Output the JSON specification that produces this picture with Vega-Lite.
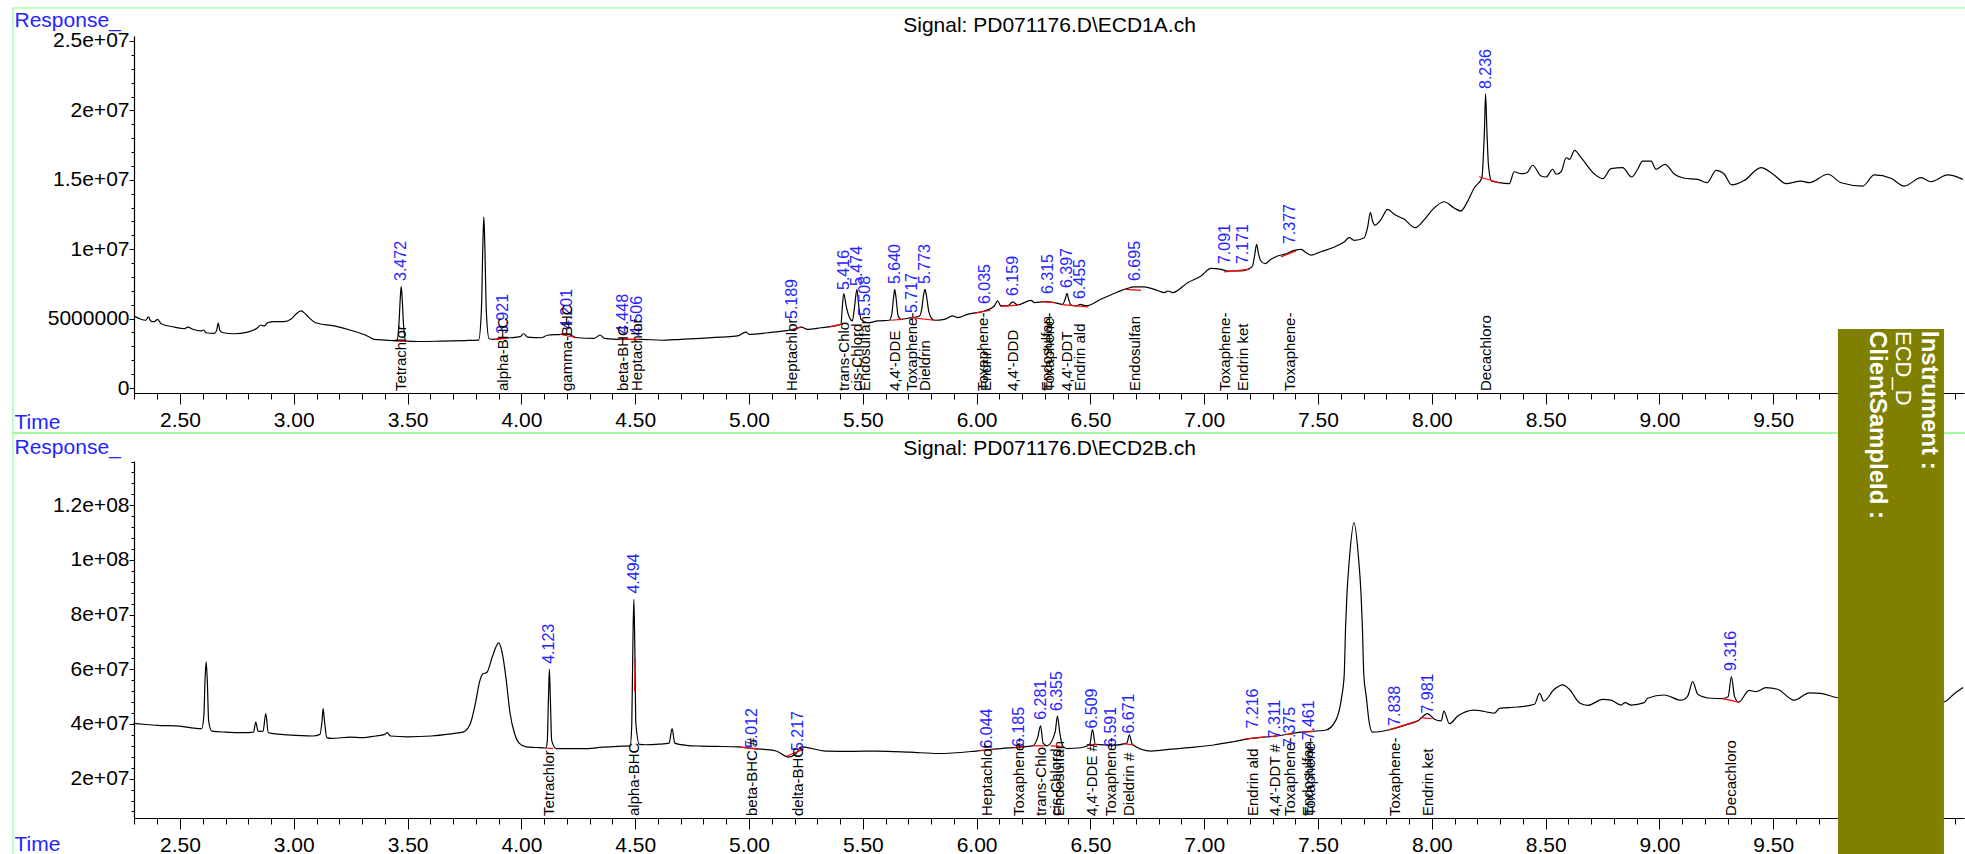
{
"$schema":"https://vega.github.io/schema/vega-lite/v6.json",
"padding":{"left":12,"top":7,"right":0,"bottom":0},
"background":"white",
"bounds":"flush",
"spacing":68,
"config":{"font":"Liberation Sans","view":{"stroke":null},
"axis":{"grid":false,"domainColor":"black","tickColor":"black","labelColor":"black","labelFont":"Liberation Sans","labelFontSize":21,"titleFont":"Liberation Sans","titleFontSize":21,"titleColor":"#2424ff","titleFontWeight":"normal","domainWidth":1.2,"tickWidth":1,"labelFlush":false,"labelOverlap":false}},
"datasets":{
"trace1":[
{"t":2.298,"v":5.19e6},{"t":2.35,"v":4.88e6},{"t":2.361,"v":5.12e6},{"t":2.372,"v":4.82e6},{"t":2.387,"v":4.78e6},{"t":2.402,"v":4.95e6},{"t":2.417,"v":4.63e6},{"t":2.475,"v":4.39e6},{"t":2.519,"v":4.27e6},{"t":2.534,"v":4.39e6},{"t":2.556,"v":4.23e6},{"t":2.592,"v":4.11e6},{"t":2.604,"v":4.18e6},{"t":2.614,"v":3.98e6},{"t":2.651,"v":3.94e6},{"t":2.661,"v":4.15e6},{"t":2.668,"v":4.68e6},{"t":2.675,"v":4.15e6},{"t":2.69,"v":3.98e6},{"t":2.738,"v":3.91e6},{"t":2.797,"v":4.03e6},{"t":2.841,"v":4.34e6},{"t":2.855,"v":4.54e6},{"t":2.87,"v":4.47e6},{"t":2.885,"v":4.70e6},{"t":2.914,"v":4.78e6},{"t":2.957,"v":4.78e6},{"t":2.987,"v":4.95e6},{"t":3.009,"v":5.31e6},{"t":3.031,"v":5.55e6},{"t":3.045,"v":5.43e6},{"t":3.067,"v":5.07e6},{"t":3.096,"v":4.70e6},{"t":3.177,"v":4.47e6},{"t":3.25,"v":4.16e6},{"t":3.323,"v":3.75e6},{"t":3.352,"v":3.51e6},{"t":3.40,"v":3.45e6},{"t":3.452,"v":3.40e6},{"t":3.462,"v":4.6e6},{"t":3.468,"v":6.5e6},{"t":3.472,"v":7.30e6},{"t":3.476,"v":6.5e6},{"t":3.482,"v":4.6e6},{"t":3.492,"v":3.38e6},{"t":3.55,"v":3.35e6},{"t":3.65,"v":3.38e6},{"t":3.75,"v":3.42e6},{"t":3.812,"v":3.45e6},{"t":3.824,"v":5.5e6},{"t":3.831,"v":10.5e6},{"t":3.835,"v":12.32e6},{"t":3.839,"v":10.5e6},{"t":3.846,"v":5.5e6},{"t":3.858,"v":3.55e6},{"t":3.88,"v":3.50e6},{"t":3.908,"v":3.58e6},{"t":3.952,"v":3.62e6},{"t":3.995,"v":3.70e6},{"t":4.010,"v":3.91e6},{"t":4.027,"v":3.67e6},{"t":4.086,"v":3.62e6},{"t":4.115,"v":3.80e6},{"t":4.174,"v":3.87e6},{"t":4.196,"v":3.91e6},{"t":4.247,"v":3.62e6},{"t":4.320,"v":3.58e6},{"t":4.346,"v":3.82e6},{"t":4.364,"v":3.58e6},{"t":4.437,"v":3.51e6},{"t":4.526,"v":3.51e6},{"t":4.614,"v":3.44e6},{"t":4.701,"v":3.51e6},{"t":4.789,"v":3.58e6},{"t":4.877,"v":3.67e6},{"t":4.950,"v":3.75e6},{"t":4.986,"v":4.03e6},{"t":5.001,"v":3.87e6},{"t":5.082,"v":3.98e6},{"t":5.156,"v":4.11e6},{"t":5.199,"v":4.23e6},{"t":5.229,"v":4.39e6},{"t":5.258,"v":4.23e6},{"t":5.316,"v":4.34e6},{"t":5.375,"v":4.47e6},{"t":5.404,"v":4.59e6},{"t":5.409,"v":5.6e6},{"t":5.416,"v":6.80e6},{"t":5.428,"v":5.8e6},{"t":5.454,"v":4.83e6},{"t":5.464,"v":5.9e6},{"t":5.474,"v":7.11e6},{"t":5.483,"v":5.8e6},{"t":5.492,"v":4.95e6},{"t":5.521,"v":4.70e6},{"t":5.565,"v":4.83e6},{"t":5.616,"v":4.88e6},{"t":5.627,"v":5.3e6},{"t":5.635,"v":6.5e6},{"t":5.640,"v":7.11e6},{"t":5.646,"v":6.5e6},{"t":5.655,"v":5.2e6},{"t":5.667,"v":4.95e6},{"t":5.712,"v":5.07e6},{"t":5.749,"v":5.19e6},{"t":5.759,"v":5.7e6},{"t":5.767,"v":6.7e6},{"t":5.773,"v":7.11e6},{"t":5.779,"v":6.7e6},{"t":5.79,"v":5.5e6},{"t":5.80,"v":5.07e6},{"t":5.814,"v":4.88e6},{"t":5.858,"v":4.95e6},{"t":5.895,"v":5.19e6},{"t":5.917,"v":5.07e6},{"t":5.960,"v":5.31e6},{"t":6.034,"v":5.55e6},{"t":6.078,"v":5.91e6},{"t":6.092,"v":6.27e6},{"t":6.107,"v":5.91e6},{"t":6.136,"v":5.91e6},{"t":6.159,"v":6.20e6},{"t":6.180,"v":5.98e6},{"t":6.239,"v":6.32e6},{"t":6.254,"v":6.15e6},{"t":6.298,"v":6.22e6},{"t":6.342,"v":6.15e6},{"t":6.378,"v":6.03e6},{"t":6.389,"v":6.4e6},{"t":6.397,"v":6.82e6},{"t":6.404,"v":6.4e6},{"t":6.415,"v":5.98e6},{"t":6.437,"v":5.91e6},{"t":6.455,"v":6.03e6},{"t":6.481,"v":5.91e6},{"t":6.546,"v":6.39e6},{"t":6.619,"v":6.92e6},{"t":6.663,"v":7.18e6},{"t":6.692,"v":7.28e6},{"t":6.736,"v":7.28e6},{"t":6.781,"v":7.11e6},{"t":6.825,"v":6.87e6},{"t":6.840,"v":6.99e6},{"t":6.862,"v":6.87e6},{"t":6.927,"v":7.59e6},{"t":6.986,"v":8.07e6},{"t":7.030,"v":8.62e6},{"t":7.074,"v":8.55e6},{"t":7.103,"v":8.43e6},{"t":7.162,"v":8.43e6},{"t":7.198,"v":8.60e6},{"t":7.212,"v":8.79e6},{"t":7.222,"v":9.6e6},{"t":7.230,"v":10.35e6},{"t":7.238,"v":9.7e6},{"t":7.249,"v":9.15e6},{"t":7.267,"v":8.96e6},{"t":7.293,"v":9.27e6},{"t":7.322,"v":9.51e6},{"t":7.352,"v":9.63e6},{"t":7.396,"v":9.92e6},{"t":7.426,"v":9.99e6},{"t":7.448,"v":9.75e6},{"t":7.470,"v":9.58e6},{"t":7.513,"v":9.82e6},{"t":7.572,"v":10.16e6},{"t":7.616,"v":10.54e6},{"t":7.637,"v":10.83e6},{"t":7.659,"v":10.64e6},{"t":7.703,"v":10.83e6},{"t":7.718,"v":11.6e6},{"t":7.730,"v":12.63e6},{"t":7.740,"v":12.0e6},{"t":7.750,"v":11.74e6},{"t":7.777,"v":12.15e6},{"t":7.806,"v":12.87e6},{"t":7.835,"v":12.51e6},{"t":7.879,"v":12.15e6},{"t":7.927,"v":11.55e6},{"t":7.968,"v":12.15e6},{"t":8.004,"v":12.87e6},{"t":8.055,"v":13.42e6},{"t":8.099,"v":12.95e6},{"t":8.128,"v":12.75e6},{"t":8.150,"v":13.23e6},{"t":8.187,"v":14.43e6},{"t":8.220,"v":15.15e6},{"t":8.226,"v":16.6e6},{"t":8.231,"v":18.5e6},{"t":8.236,"v":21.2e6},{"t":8.242,"v":18.5e6},{"t":8.249,"v":16.0e6},{"t":8.262,"v":14.91e6},{"t":8.296,"v":14.79e6},{"t":8.340,"v":14.72e6},{"t":8.362,"v":15.58e6},{"t":8.392,"v":15.44e6},{"t":8.418,"v":15.51e6},{"t":8.443,"v":16.05e6},{"t":8.480,"v":15.27e6},{"t":8.502,"v":15.20e6},{"t":8.531,"v":15.76e6},{"t":8.546,"v":15.40e6},{"t":8.568,"v":15.58e6},{"t":8.590,"v":16.59e6},{"t":8.605,"v":16.47e6},{"t":8.627,"v":17.12e6},{"t":8.656,"v":16.59e6},{"t":8.715,"v":15.40e6},{"t":8.751,"v":15.08e6},{"t":8.787,"v":15.80e6},{"t":8.838,"v":15.87e6},{"t":8.878,"v":15.20e6},{"t":8.904,"v":15.76e6},{"t":8.926,"v":16.35e6},{"t":8.963,"v":16.35e6},{"t":8.985,"v":15.76e6},{"t":9.024,"v":16.11e6},{"t":9.066,"v":15.40e6},{"t":9.110,"v":15.11e6},{"t":9.168,"v":15.03e6},{"t":9.209,"v":14.79e6},{"t":9.249,"v":15.68e6},{"t":9.285,"v":15.40e6},{"t":9.317,"v":14.63e6},{"t":9.373,"v":14.96e6},{"t":9.446,"v":15.87e6},{"t":9.504,"v":15.35e6},{"t":9.556,"v":14.72e6},{"t":9.622,"v":14.91e6},{"t":9.658,"v":14.79e6},{"t":9.740,"v":15.40e6},{"t":9.798,"v":14.79e6},{"t":9.893,"v":14.55e6},{"t":9.944,"v":15.35e6},{"t":10.017,"v":15.11e6},{"t":10.076,"v":14.55e6},{"t":10.149,"v":15.15e6},{"t":10.193,"v":14.86e6},{"t":10.267,"v":15.35e6},{"t":10.333,"v":15.03e6}],
"trace2":[
{"t":2.296,"v":40.2e6},{"t":2.35,"v":39.8e6},{"t":2.40,"v":39.5e6},{"t":2.482,"v":39.3e6},{"t":2.55,"v":38.6e6},{"t":2.595,"v":38.3e6},{"t":2.605,"v":43e6},{"t":2.610,"v":56e6},{"t":2.615,"v":62.7e6},{"t":2.620,"v":56e6},{"t":2.626,"v":41e6},{"t":2.64,"v":37.4e6},{"t":2.70,"v":37.0e6},{"t":2.78,"v":36.8e6},{"t":2.823,"v":37.0e6},{"t":2.833,"v":40.7e6},{"t":2.843,"v":37.3e6},{"t":2.865,"v":37.4e6},{"t":2.877,"v":43.8e6},{"t":2.888,"v":36.8e6},{"t":2.93,"v":36.3e6},{"t":2.974,"v":36.0e6},{"t":3.084,"v":35.6e6},{"t":3.115,"v":36.2e6},{"t":3.124,"v":41e6},{"t":3.129,"v":45.6e6},{"t":3.135,"v":41e6},{"t":3.145,"v":35.0e6},{"t":3.167,"v":34.7e6},{"t":3.25,"v":35.2e6},{"t":3.30,"v":35.0e6},{"t":3.36,"v":35.6e6},{"t":3.40,"v":36.2e6},{"t":3.41,"v":36.8e6},{"t":3.425,"v":35.6e6},{"t":3.5,"v":35.3e6},{"t":3.605,"v":35.6e6},{"t":3.70,"v":36.5e6},{"t":3.743,"v":37.0e6},{"t":3.775,"v":40e6},{"t":3.80,"v":48.4e6},{"t":3.815,"v":55e6},{"t":3.83,"v":58.3e6},{"t":3.848,"v":58.8e6},{"t":3.872,"v":64.5e6},{"t":3.90,"v":69.7e6},{"t":3.918,"v":65e6},{"t":3.933,"v":56.3e6},{"t":3.95,"v":44e6},{"t":3.97,"v":36.5e6},{"t":3.99,"v":33e6},{"t":4.021,"v":31.6e6},{"t":4.063,"v":31.4e6},{"t":4.108,"v":31.2e6},{"t":4.114,"v":34e6},{"t":4.119,"v":50e6},{"t":4.123,"v":60.0e6},{"t":4.127,"v":50e6},{"t":4.133,"v":34e6},{"t":4.153,"v":31.0e6},{"t":4.293,"v":31.0e6},{"t":4.353,"v":31.5e6},{"t":4.423,"v":31.8e6},{"t":4.478,"v":32.0e6},{"t":4.485,"v":40e6},{"t":4.490,"v":70e6},{"t":4.494,"v":85.6e6},{"t":4.498,"v":70e6},{"t":4.503,"v":40e6},{"t":4.519,"v":32.5e6},{"t":4.544,"v":32.4e6},{"t":4.604,"v":32.6e6},{"t":4.649,"v":33.0e6},{"t":4.662,"v":38.3e6},{"t":4.674,"v":33.0e6},{"t":4.724,"v":32.2e6},{"t":4.789,"v":31.9e6},{"t":4.854,"v":31.8e6},{"t":4.954,"v":31.6e6},{"t":5.024,"v":31.0e6},{"t":5.119,"v":30.1e6},{"t":5.174,"v":27.9e6},{"t":5.205,"v":29.0e6},{"t":5.229,"v":31.6e6},{"t":5.338,"v":30.1e6},{"t":5.455,"v":30.0e6},{"t":5.558,"v":30.1e6},{"t":5.706,"v":29.7e6},{"t":5.833,"v":29.2e6},{"t":5.997,"v":30.1e6},{"t":6.046,"v":30.5e6},{"t":6.107,"v":31.0e6},{"t":6.186,"v":31.5e6},{"t":6.246,"v":32.0e6},{"t":6.268,"v":35e6},{"t":6.281,"v":39.3e6},{"t":6.292,"v":33e6},{"t":6.31,"v":32.0e6},{"t":6.345,"v":37e6},{"t":6.355,"v":42.9e6},{"t":6.365,"v":37e6},{"t":6.378,"v":32.0e6},{"t":6.397,"v":31.0e6},{"t":6.457,"v":31.3e6},{"t":6.497,"v":32.5e6},{"t":6.509,"v":37.9e6},{"t":6.522,"v":32.5e6},{"t":6.597,"v":32.2e6},{"t":6.66,"v":33e6},{"t":6.671,"v":36.0e6},{"t":6.684,"v":32.5e6},{"t":6.766,"v":30.1e6},{"t":6.857,"v":30.8e6},{"t":6.958,"v":31.5e6},{"t":7.041,"v":32.3e6},{"t":7.128,"v":33.5e6},{"t":7.205,"v":34.7e6},{"t":7.308,"v":35.5e6},{"t":7.426,"v":37.0e6},{"t":7.535,"v":37.8e6},{"t":7.579,"v":41.5e6},{"t":7.604,"v":50e6},{"t":7.615,"v":58e6},{"t":7.621,"v":75.2e6},{"t":7.627,"v":87.4e6},{"t":7.637,"v":99.6e6},{"t":7.658,"v":113.6e6},{"t":7.679,"v":99.6e6},{"t":7.689,"v":87.4e6},{"t":7.695,"v":75.2e6},{"t":7.701,"v":58e6},{"t":7.712,"v":50e6},{"t":7.724,"v":41e6},{"t":7.739,"v":37.0e6},{"t":7.809,"v":37.8e6},{"t":7.879,"v":39.5e6},{"t":7.940,"v":41.2e6},{"t":7.981,"v":43.8e6},{"t":8.010,"v":41.8e6},{"t":8.041,"v":41.1e6},{"t":8.053,"v":44.7e6},{"t":8.077,"v":40.1e6},{"t":8.114,"v":42.9e6},{"t":8.187,"v":45.1e6},{"t":8.276,"v":44.0e6},{"t":8.297,"v":45.7e6},{"t":8.378,"v":46.2e6},{"t":8.451,"v":47.2e6},{"t":8.473,"v":51.2e6},{"t":8.492,"v":48.4e6},{"t":8.538,"v":52.7e6},{"t":8.575,"v":54.3e6},{"t":8.604,"v":52.7e6},{"t":8.648,"v":47.8e6},{"t":8.685,"v":46.8e6},{"t":8.751,"v":49.0e6},{"t":8.787,"v":48.7e6},{"t":8.831,"v":46.9e6},{"t":8.849,"v":47.8e6},{"t":8.875,"v":46.9e6},{"t":8.933,"v":47.8e6},{"t":8.948,"v":49.4e6},{"t":9.021,"v":50.6e6},{"t":9.095,"v":48.7e6},{"t":9.124,"v":50.2e6},{"t":9.146,"v":55.5e6},{"t":9.168,"v":50.9e6},{"t":9.227,"v":49.4e6},{"t":9.278,"v":49.3e6},{"t":9.302,"v":50e6},{"t":9.316,"v":57.3e6},{"t":9.330,"v":50e6},{"t":9.348,"v":48.0e6},{"t":9.394,"v":52.3e6},{"t":9.424,"v":51.8e6},{"t":9.468,"v":53.3e6},{"t":9.519,"v":52.7e6},{"t":9.592,"v":48.7e6},{"t":9.658,"v":51.4e6},{"t":9.709,"v":51.2e6},{"t":9.782,"v":49.6e6},{"t":9.91,"v":49.0e6},{"t":10.06,"v":48.5e6},{"t":10.21,"v":48.2e6},{"t":10.25,"v":48.1e6},{"t":10.293,"v":50.9e6},{"t":10.334,"v":53.3e6}],
"base1":[
{"t":3.452,"v":3.38e6,"t2":3.495,"v2":3.36e6},{"t":3.88,"v":3.50e6,"t2":3.935,"v2":3.58e6},{"t":4.17,"v":3.87e6,"t2":4.24,"v2":3.62e6},{"t":4.43,"v":3.52e6,"t2":4.515,"v2":3.48e6},{"t":5.19,"v":4.22e6,"t2":5.23,"v2":4.38e6},{"t":5.355,"v":4.40e6,"t2":5.41,"v2":4.62e6},{"t":5.62,"v":4.88e6,"t2":5.675,"v2":4.95e6},{"t":5.712,"v":5.07e6,"t2":5.815,"v2":4.88e6},{"t":5.985,"v":5.38e6,"t2":6.06,"v2":5.6e6},{"t":6.105,"v":5.88e6,"t2":6.185,"v2":5.98e6},{"t":6.285,"v":6.22e6,"t2":6.345,"v2":6.15e6},{"t":6.375,"v":6.0e6,"t2":6.49,"v2":5.85e6},{"t":6.656,"v":7.11e6,"t2":6.722,"v2":7.03e6},{"t":7.088,"v":8.36e6,"t2":7.197,"v2":8.55e6},{"t":7.337,"v":9.45e6,"t2":7.403,"v2":9.88e6},{"t":8.208,"v":15.22e6,"t2":8.296,"v2":14.79e6}],
"base2":[
{"t":4.105,"v":31.2e6,"t2":4.14,"v2":31.0e6},{"t":4.497,"v":52e6,"t2":4.501,"v2":64e6},{"t":4.96,"v":31.5e6,"t2":5.04,"v2":30.8e6},{"t":5.165,"v":28.2e6,"t2":5.24,"v2":30.8e6},{"t":6.015,"v":30.3e6,"t2":6.075,"v2":30.7e6},{"t":6.16,"v":31.3e6,"t2":6.21,"v2":31.6e6},{"t":6.25,"v":32.0e6,"t2":6.30,"v2":32.0e6},{"t":6.325,"v":32.0e6,"t2":6.375,"v2":31.8e6},{"t":6.485,"v":32.4e6,"t2":6.53,"v2":32.4e6},{"t":6.57,"v":32.1e6,"t2":6.61,"v2":32.1e6},{"t":6.645,"v":32.8e6,"t2":6.69,"v2":32.3e6},{"t":7.175,"v":34.4e6,"t2":7.265,"v2":35.2e6},{"t":7.29,"v":35.4e6,"t2":7.33,"v2":35.8e6},{"t":7.355,"v":36.2e6,"t2":7.39,"v2":36.4e6},{"t":7.44,"v":37.1e6,"t2":7.48,"v2":37.3e6},{"t":7.81,"v":37.8e6,"t2":7.94,"v2":41.2e6},{"t":7.95,"v":42.3e6,"t2":8.0,"v2":41.9e6},{"t":9.278,"v":49.3e6,"t2":9.348,"v2":48.0e6}],
"peaks1":[
{"t":3.472,"label":"3.472","v":7.71e6},{"t":3.921,"label":"3.921","v":3.89e6},{"t":4.201,"label":"4.201","v":4.25e6},{"t":4.448,"label":"4.448","v":3.89e6},{"t":4.506,"label":"4.506","v":3.75e6},{"t":5.189,"label":"5.189","v":4.97e6},{"t":5.416,"label":"5.416","v":7.06e6},{"t":5.474,"label":"5.474","v":7.35e6},{"t":5.508,"label":"5.508","v":5.19e6},{"t":5.640,"label":"5.640","v":7.49e6},{"t":5.717,"label":"5.717","v":5.40e6},{"t":5.773,"label":"5.773","v":7.49e6},{"t":6.035,"label":"6.035","v":6.05e6},{"t":6.159,"label":"6.159","v":6.63e6},{"t":6.315,"label":"6.315","v":6.77e6},{"t":6.397,"label":"6.397","v":7.2e6},{"t":6.455,"label":"6.455","v":6.41e6},{"t":6.695,"label":"6.695","v":7.71e6},{"t":7.091,"label":"7.091","v":8.93e6},{"t":7.171,"label":"7.171","v":8.93e6},{"t":7.377,"label":"7.377","v":10.37e6},{"t":8.236,"label":"8.236","v":21.54e6}],
"peaks2":[
{"t":4.123,"label":"4.123","v":62.0e6},{"t":4.494,"label":"4.494","v":87.7e6},{"t":5.012,"label":"5.012","v":31.2e6},{"t":5.217,"label":"5.217","v":30.1e6},{"t":6.044,"label":"6.044","v":31.0e6},{"t":6.185,"label":"6.185","v":31.6e6},{"t":6.281,"label":"6.281","v":41.5e6},{"t":6.355,"label":"6.355","v":44.7e6},{"t":6.509,"label":"6.509","v":38.3e6},{"t":6.591,"label":"6.591","v":31.6e6},{"t":6.671,"label":"6.671","v":36.5e6},{"t":7.216,"label":"7.216","v":38.3e6},{"t":7.311,"label":"7.311","v":34.7e6},{"t":7.375,"label":"7.375","v":31.6e6},{"t":7.461,"label":"7.461","v":34.0e6},{"t":7.838,"label":"7.838","v":39.3e6},{"t":7.981,"label":"7.981","v":43.8e6},{"t":9.316,"label":"9.316","v":59.4e6}],
"names1":[
{"t":3.472,"name":"Tetrachlor"},{"t":3.921,"name":"alpha-BHC"},{"t":4.201,"name":"gamma-BHC"},{"t":4.448,"name":"beta-BHC"},{"t":4.506,"name":"Heptachlor"},{"t":5.189,"name":"Heptachlor"},{"t":5.416,"name":"trans-Chlo"},{"t":5.474,"name":"cis-Chlord"},{"t":5.508,"name":"Endosulfan"},{"t":5.640,"name":"4,4'-DDE"},{"t":5.717,"name":"Toxaphene-"},{"t":5.773,"name":"Dieldrin"},{"t":6.030,"name":"Toxaphene-"},{"t":6.040,"name":"Endrin"},{"t":6.159,"name":"4,4'-DDD"},{"t":6.310,"name":"Endosulfan"},{"t":6.320,"name":"Toxaphene-"},{"t":6.397,"name":"4,4'-DDT"},{"t":6.455,"name":"Endrin ald"},{"t":6.695,"name":"Endosulfan"},{"t":7.091,"name":"Toxaphene-"},{"t":7.171,"name":"Endrin ket"},{"t":7.377,"name":"Toxaphene-"},{"t":8.236,"name":"Decachloro"}],
"names2":[
{"t":4.123,"name":"Tetrachlor"},{"t":4.494,"name":"alpha-BHC"},{"t":5.012,"name":"beta-BHC #"},{"t":5.217,"name":"delta-BHC"},{"t":6.044,"name":"Heptachlor"},{"t":6.185,"name":"Toxaphene-"},{"t":6.281,"name":"trans-Chlo"},{"t":6.350,"name":"cis-Chlord"},{"t":6.360,"name":"Endosulfan"},{"t":6.509,"name":"4,4'-DDE #"},{"t":6.591,"name":"Toxaphene-"},{"t":6.671,"name":"Dieldrin #"},{"t":7.216,"name":"Endrin ald"},{"t":7.311,"name":"4,4'-DDT #"},{"t":7.375,"name":"Toxaphene-"},{"t":7.455,"name":"Endosulfan"},{"t":7.465,"name":"Toxaphene-"},{"t":7.838,"name":"Toxaphene-"},{"t":7.981,"name":"Endrin ket"},{"t":9.316,"name":"Decachloro"}]
},
"vconcat":[
{"width":1830,"height":357,
"resolve":{"axis":{"x":"independent","y":"independent"}},
"layer":[
{"data":{"values":[{}]},"mark":{"type":"rect","filled":false,"color":"#80ff80","strokeWidth":1},
"encoding":{"x":{"datum":1.766,"type":"quantitative","scale":{"domain":[2.298,10.338],"nice":false,"zero":false},"axis":null},"x2":{"datum":10.37},"y":{"datum":27380000,"type":"quantitative","scale":{"domain":[-360000,25360000],"nice":false,"zero":false},"axis":null},"y2":{"datum":-3240000}}},
{"data":{"name":"trace1"},"mark":{"type":"line","color":"black","strokeWidth":1.2,"interpolate":"monotone"},
"encoding":{
"x":{"field":"t","type":"quantitative","scale":{"domain":[2.298,10.338],"nice":false,"zero":false},
"axis":{"orient":"bottom","values":[2.5,3,3.5,4,4.5,5,5.5,6,6.5,7,7.5,8,8.5,9,9.5,10],"format":".2f","tickSize":11,"labelPadding":5,"title":"Time","titleX":-120,"titleY":35,"titleAlign":"left","titleBaseline":"alphabetic"}},
"y":{"field":"v","type":"quantitative","scale":{"domain":[-360000,25360000],"nice":false,"zero":false},
"axis":{"orient":"left","values":[0,5000000,10000000,15000000,20000000,25000000],
"labelExpr":"datum.value==0 ? '0' : datum.value==5000000 ? '5000000' : datum.value==10000000 ? '1e+07' : datum.value==15000000 ? '1.5e+07' : datum.value==20000000 ? '2e+07' : '2.5e+07'",
"tickSize":5,"labelPadding":0,"title":"Response_","titleAngle":0,"titleX":-120,"titleY":-10,"titleAlign":"left","titleBaseline":"alphabetic"}}}},
{"data":{"name":"base1"},"mark":{"type":"rule","color":"#ff0000","strokeWidth":1.2},
"encoding":{"x":{"field":"t","type":"quantitative","axis":{"orient":"bottom","values":[2.3,2.4,2.6,2.7,2.8,2.9,3.1,3.2,3.3,3.4,3.6,3.7,3.8,3.9,4.1,4.2,4.3,4.4,4.6,4.7,4.8,4.9,5.1,5.2,5.3,5.4,5.6,5.7,5.8,5.9,6.1,6.2,6.3,6.4,6.6,6.7,6.8,6.9,7.1,7.2,7.3,7.4,7.6,7.7,7.8,7.9,8.1,8.2,8.3,8.4,8.6,8.7,8.8,8.9,9.1,9.2,9.3,9.4,9.6,9.7,9.8,9.9,10.1,10.2,10.3],"labels":false,"domain":false,"tickSize":6,"title":null}},"x2":{"field":"t2"},
"y":{"field":"v","type":"quantitative","axis":{"orient":"left","values":[1000000,2000000,3000000,4000000,6000000,7000000,8000000,9000000,11000000,12000000,13000000,14000000,16000000,17000000,18000000,19000000,21000000,22000000,23000000,24000000],"labels":false,"domain":false,"tickSize":3,"title":null}},"y2":{"field":"v2"}}},
{"data":{"name":"peaks1"},"mark":{"type":"text","angle":270,"align":"left","baseline":"middle","color":"#2424ff","fontSize":16,"font":"Liberation Sans"},
"encoding":{"x":{"field":"t","type":"quantitative","axis":{"orient":"top","domain":false,"ticks":false,"labels":false,"title":"Signal: PD071176.D\\ECD1A.ch","titleX":915,"titleY":-5,"titleAlign":"center","titleBaseline":"alphabetic","titleAngle":0,"titleColor":"black","titleFontSize":21}},"y":{"field":"v","type":"quantitative","axis":null},"text":{"field":"label"}}},
{"data":{"name":"names1"},"mark":{"type":"text","angle":270,"align":"left","baseline":"middle","color":"black","fontSize":15,"font":"Liberation Sans","dx":2},
"encoding":{"x":{"field":"t","type":"quantitative","axis":null},"y":{"datum":-360000,"type":"quantitative","axis":null},"text":{"field":"name"}}}
]},
{"width":1830,"height":357,
"resolve":{"axis":{"x":"independent","y":"independent"}},
"layer":[
{"data":{"values":[{}]},"mark":{"type":"rect","filled":false,"color":"#80ff80","strokeWidth":1},
"encoding":{"x":{"datum":1.766,"type":"quantitative","scale":{"domain":[2.298,10.338],"nice":false,"zero":false},"axis":null},"x2":{"datum":10.37},"y":{"datum":146440000,"type":"quantitative","scale":{"domain":[5600000,136200000],"nice":false,"zero":false},"axis":null},"y2":{"datum":-10130000}}},
{"data":{"name":"trace2"},"mark":{"type":"line","color":"black","strokeWidth":1.2,"interpolate":"monotone"},
"encoding":{
"x":{"field":"t","type":"quantitative","scale":{"domain":[2.298,10.338],"nice":false,"zero":false},
"axis":{"orient":"bottom","values":[2.5,3,3.5,4,4.5,5,5.5,6,6.5,7,7.5,8,8.5,9,9.5,10],"format":".2f","tickSize":11,"labelPadding":5,"title":"Time","titleX":-120,"titleY":32,"titleAlign":"left","titleBaseline":"alphabetic"}},
"y":{"field":"v","type":"quantitative","scale":{"domain":[5600000,136200000],"nice":false,"zero":false},
"axis":{"orient":"left","values":[20000000,40000000,60000000,80000000,100000000,120000000],
"labelExpr":"datum.value==20000000 ? '2e+07' : datum.value==40000000 ? '4e+07' : datum.value==60000000 ? '6e+07' : datum.value==80000000 ? '8e+07' : datum.value==100000000 ? '1e+08' : '1.2e+08'",
"tickSize":5,"labelPadding":0,"title":"Response_","titleAngle":0,"titleX":-120,"titleY":-8,"titleAlign":"left","titleBaseline":"alphabetic"}}}},
{"data":{"name":"base2"},"mark":{"type":"rule","color":"#ff0000","strokeWidth":1.2},
"encoding":{"x":{"field":"t","type":"quantitative","axis":{"orient":"bottom","values":[2.3,2.4,2.6,2.7,2.8,2.9,3.1,3.2,3.3,3.4,3.6,3.7,3.8,3.9,4.1,4.2,4.3,4.4,4.6,4.7,4.8,4.9,5.1,5.2,5.3,5.4,5.6,5.7,5.8,5.9,6.1,6.2,6.3,6.4,6.6,6.7,6.8,6.9,7.1,7.2,7.3,7.4,7.6,7.7,7.8,7.9,8.1,8.2,8.3,8.4,8.6,8.7,8.8,8.9,9.1,9.2,9.3,9.4,9.6,9.7,9.8,9.9,10.1,10.2,10.3],"labels":false,"domain":false,"tickSize":6,"title":null}},"x2":{"field":"t2"},
"y":{"field":"v","type":"quantitative","axis":{"orient":"left","values":[8000000,12000000,16000000,24000000,28000000,32000000,36000000,44000000,48000000,52000000,56000000,64000000,68000000,72000000,76000000,84000000,88000000,92000000,96000000,104000000,108000000,112000000,116000000,124000000,128000000,132000000,136000000],"labels":false,"domain":false,"tickSize":3,"title":null}},"y2":{"field":"v2"}}},
{"data":{"name":"peaks2"},"mark":{"type":"text","angle":270,"align":"left","baseline":"middle","color":"#2424ff","fontSize":16,"font":"Liberation Sans"},
"encoding":{"x":{"field":"t","type":"quantitative","axis":{"orient":"top","domain":false,"ticks":false,"labels":false,"title":"Signal: PD071176.D\\ECD2B.ch","titleX":915,"titleY":-7,"titleAlign":"center","titleBaseline":"alphabetic","titleAngle":0,"titleColor":"black","titleFontSize":21}},"y":{"field":"v","type":"quantitative","axis":null},"text":{"field":"label"}}},
{"data":{"name":"names2"},"mark":{"type":"text","angle":270,"align":"left","baseline":"middle","color":"black","fontSize":15,"font":"Liberation Sans","dx":2},
"encoding":{"x":{"field":"t","type":"quantitative","axis":null},"y":{"datum":5600000,"type":"quantitative","axis":null},"text":{"field":"name"}}},
{"data":{"values":[{}]},"mark":{"type":"rect","color":"#808000"},
"encoding":{"x":{"datum":9.784,"type":"quantitative","axis":null},"x2":{"datum":10.25},"y":{"datum":184490000,"type":"quantitative","axis":null},"y2":{"datum":-10130000}}},
{"data":{"values":[{}]},"mark":{"type":"text","angle":90,"align":"left","baseline":"middle","color":"white","fontSize":24,"fontWeight":"bold","font":"Liberation Sans","text":"Instrument :"},
"encoding":{"x":{"datum":10.184,"type":"quantitative","axis":null},"y":{"datum":183760000,"type":"quantitative","axis":null}}},
{"data":{"values":[{}]},"mark":{"type":"text","angle":90,"align":"left","baseline":"middle","color":"white","fontSize":22,"font":"Liberation Sans","text":"ECD_D"},
"encoding":{"x":{"datum":10.069,"type":"quantitative","axis":null},"y":{"datum":183760000,"type":"quantitative","axis":null}}},
{"data":{"values":[{}]},"mark":{"type":"text","angle":90,"align":"left","baseline":"middle","color":"white","fontSize":24,"fontWeight":"bold","font":"Liberation Sans","text":"ClientSampleId :"},
"encoding":{"x":{"datum":9.955,"type":"quantitative","axis":null},"y":{"datum":183760000,"type":"quantitative","axis":null}}}
]}
]}
